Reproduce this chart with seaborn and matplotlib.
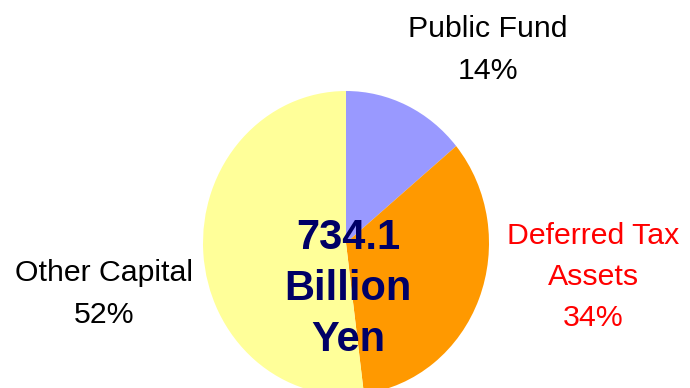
import matplotlib
matplotlib.use("Agg")
import matplotlib.pyplot as plt
import seaborn as sns

# Capital composition
categories = ["Public Fund", "Deferred Tax\nAssets", "Other Capital"]
shares = [14, 34, 52]
slice_colors = ["#9999FF", "#FF9900", "#FFFF99"]
label_colors = ["#000000", "#FF0000", "#000000"]
total_text = "734.1\nBillion\nYen"

sns.set_theme(style="white")
plt.rcParams["font.family"] = ["Liberation Sans", "DejaVu Sans"]

W, H = 690, 388
fig = plt.figure(figsize=(W / 100, H / 100), dpi=100)
fig.patch.set_facecolor("white")

# pie area in pixel coordinates (slightly taller than wide)
left, top, pw, ph = 203, 91, 286, 304
ax = fig.add_axes([left / W, 1 - (top + ph) / H, pw / W, ph / H])
ax.pie(shares, colors=slice_colors, startangle=90, counterclock=False,
       radius=1.0, wedgeprops=dict(linewidth=0))
ax.set_xlim(-1, 1)
ax.set_ylim(-1, 1)
ax.set_aspect("auto")
ax.axis("off")

def px(x, y):
    return x / W, 1 - y / H

label_pos = [(488, 50), (593, 277), (104, 294)]
for name, val, col, (x, y) in zip(categories, shares, label_colors, label_pos):
    fig.text(*px(x, y), f"{name}\n{val}%", ha="center", va="center",
             fontsize=21.8, color=col, linespacing=1.6)

fig.text(*px(348, 289), total_text, ha="center", va="center",
         fontsize=30, fontweight="bold", color="#000066", linespacing=1.36)

fig.savefig("out.png", dpi=100)
